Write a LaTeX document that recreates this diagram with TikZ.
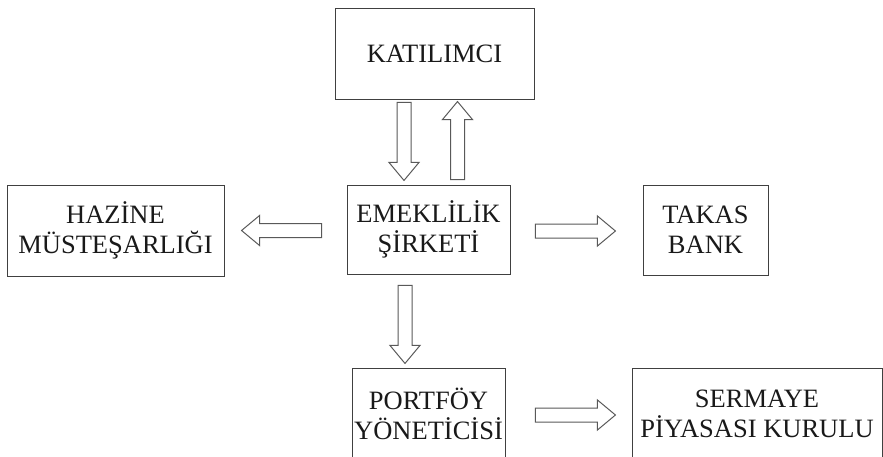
\documentclass[tikz,border=0pt]{standalone}
\usepackage{fontspec}
\setmainfont{Liberation Serif}
\usetikzlibrary{calc}
\begin{document}
\begin{tikzpicture}[x=1pt,y=-1pt,
  box/.style={draw=black!75, line width=0.9pt, fill=white, inner sep=0pt,
    align=center, font=\fontsize{26.5}{30}\selectfont, text=black!90},
  arrowline/.style={draw=black!65, line width=1pt, fill=white, line join=miter},
  pics/barrow/.style={code={
    \draw[arrowline] (0,-7) -- (#1-18,-7) -- (#1-18,-15) -- (#1,0)
      -- (#1-18,15) -- (#1-18,7) -- (0,7) -- cycle;}}]
\useasboundingbox (0,0) rectangle (883,457);
\node[box, minimum width=199pt, minimum height=91pt] (kat) at (434.5,53.5) {KATILIMCI};
\node[box, minimum width=163pt, minimum height=89pt] (emek) at (428.5,229.5) {EMEKLİLİK\\ŞİRKETİ};
\node[box, minimum width=217pt, minimum height=91pt] (haz) at (115.5,230.5) {HAZİNE\\MÜSTEŞARLIĞI};
\node[box, minimum width=125pt, minimum height=90pt] (takas) at (705.5,230) {TAKAS\\BANK};
\node[box, minimum width=153pt, minimum height=92pt] (port) at (428.5,414) {PORTFÖY\\YÖNETİCİSİ};
\node[box, minimum width=250pt, minimum height=92pt] (serm) at (757,414) {SERMAYE\\PİYASASI KURULU};
% connectors (block arrows)
\coordinate (a1) at ($(kat.south)+(-30.5,3)$);
\coordinate (a2) at ($(emek.north)+(29,-5)$);
\coordinate (a3) at ($(emek.west)+(-25,1)$);
\coordinate (a4) at ($(emek.east)+(25,1.5)$);
\coordinate (a5) at ($(emek.south)+(-23.5,11)$);
\coordinate (a6) at ($(port.east)+(30,1)$);
\pic[rotate=-90] at (a1) {barrow=78};
\pic[rotate=90] at (a2) {barrow=78};
\pic[rotate=180] at (a3) {barrow=80};
\pic at (a4) {barrow=80};
\pic[rotate=-90] at (a5) {barrow=78};
\pic at (a6) {barrow=80};
\end{tikzpicture}
\end{document}
